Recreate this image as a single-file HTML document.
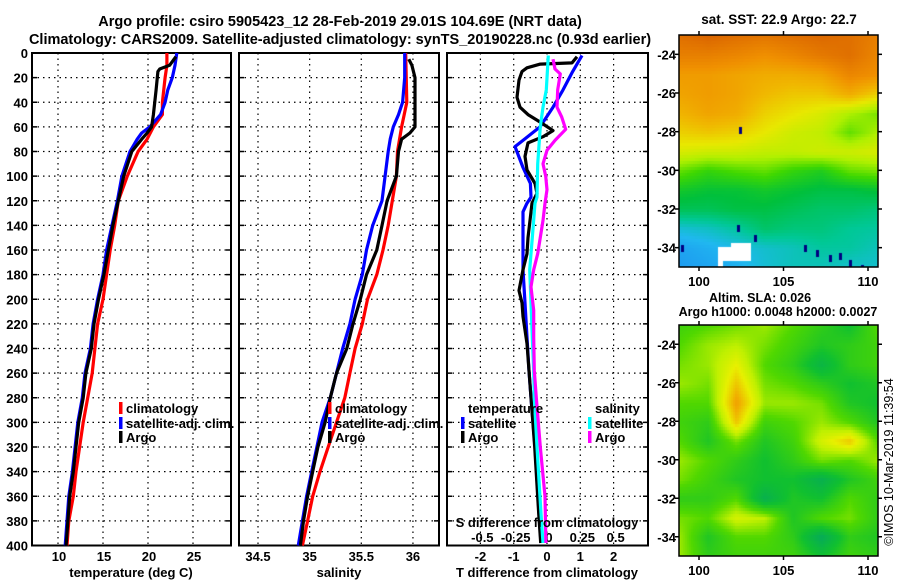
<!DOCTYPE html>
<html><head><meta charset="utf-8">
<style>
html,body{margin:0;padding:0;background:#fff;width:900px;height:580px;overflow:hidden;}
#wrap{position:relative;width:900px;height:580px;}
canvas{position:absolute;}
svg{position:absolute;left:0;top:0;}
text{font-family:"Liberation Sans",Arial,sans-serif;font-weight:bold;fill:#000;}
</style></head><body>
<div id="wrap">
<canvas id="sstmap" width="199" height="232" style="left:679px;top:35px;"></canvas>
<canvas id="slamap" width="199" height="231" style="left:679px;top:325px;"></canvas>
<svg id="fig" width="900" height="580" xmlns="http://www.w3.org/2000/svg">
<text x="340" y="26" font-size="14.5" text-anchor="middle">Argo profile: csiro 5905423_12 28-Feb-2019 29.01S 104.69E (NRT data)</text>
<text x="340" y="44" font-size="14.5" text-anchor="middle">Climatology: CARS2009. Satellite-adjusted climatology: synTS_20190228.nc (0.93d earlier)</text>
<text x="779" y="24" font-size="13.5" text-anchor="middle">sat. SST: 22.9 Argo: 22.7</text>
<text x="760" y="302" font-size="12.5" text-anchor="middle">Altim. SLA: 0.026</text>
<text x="778" y="316" font-size="12.5" text-anchor="middle">Argo h1000: 0.0048 h2000: 0.0027</text>
<text transform="translate(893,462) rotate(-90)" font-size="12.5" text-anchor="middle" style="font-weight:normal">©IMOS 10-Mar-2019 11:39:54</text>
<g id="layer"></g>
</svg>
</div>
<script>
// ===== Data =====
const depthTicks = [0,20,40,60,80,100,120,140,160,180,200,220,240,260,280,300,320,340,360,380,400];
const tempTicks = [10,15,20,25];
const salTicks = [34.5,35,35.5,36];
const dTTicks = [-2,-1,0,1,2];
const dSTicks = [-0.5,-0.25,0,0.25,0.5];
const dSTickLabels = ['-0.5','-0.25','0','0.25','0.5'];

const climTDepth = [0,10,20,40,50,60,70,80,100,120,140,160,180,200,220,240,260,280,300,320,340,360,380,400];
const climTemp  = [22.1,22.1,21.9,21.6,21.6,20.6,19.9,18.9,17.7,16.7,16.3,15.8,15.4,15.0,14.4,14.1,13.8,13.3,12.8,12.4,12.0,11.7,11.2,11.0];
const satTDepth = [0,10,20,30,40,50,60,65,70,80,100,120,140,160,180,200,220,240,260,280,300,320,340,360,380,400];
const satTemp   = [23.2,23.0,22.7,22.2,21.9,21.4,20.2,19.3,18.8,18.0,17.1,16.6,16.0,15.4,15.0,14.4,13.9,13.6,13.0,12.7,12.2,11.9,11.6,11.2,11.0,10.8];
const argoTDepth = [3,10,13,15,30,50,60,65,70,80,100,120,140,160,180,200,220,240,260,280,300,320,340,360,380,400];
const argoTemp   = [23.1,22.4,21.3,21.1,20.9,20.6,20.4,19.9,19.3,18.2,17.3,16.7,16.1,15.6,15.1,14.5,14.0,13.7,13.1,12.8,12.3,12.0,11.7,11.3,11.1,10.9];

const climSDepth = [0,40,60,80,100,120,140,160,180,200,220,240,260,280,300,320,340,360,380,400];
const climSal    = [35.93,35.94,35.89,35.85,35.84,35.80,35.76,35.71,35.65,35.56,35.51,35.44,35.39,35.34,35.26,35.18,35.10,35.03,34.98,34.93];
const satSDepth = [0,20,40,50,60,70,80,100,120,140,160,180,200,220,240,260,280,300,320,340,360,380,400];
const satSal    = [35.92,35.92,35.90,35.86,35.81,35.78,35.76,35.73,35.70,35.61,35.55,35.51,35.44,35.39,35.32,35.26,35.20,35.12,35.07,35.02,34.97,34.93,34.89];
const argoSDepth = [5,10,20,50,60,65,70,80,100,120,140,160,180,200,220,240,260,280,300,320,340,360,380,400];
const argoSal    = [35.96,35.99,36.02,36.02,36.02,35.97,35.89,35.86,35.84,35.75,35.70,35.65,35.55,35.49,35.42,35.36,35.26,35.20,35.15,35.08,35.03,34.98,34.94,34.91];

const dTSatDepth = [2,16,30,44,60,71,76,93,106,117,122,129,150,176,203,231,258,280,320,374,398];
const dTSat      = [1.05,0.75,0.48,0.18,-0.21,-0.72,-0.96,-0.72,-0.5,-0.48,-0.6,-0.72,-0.72,-0.72,-0.66,-0.6,-0.54,-0.48,-0.36,-0.24,-0.18];
const dTArgoDepth = [3,8,9,12,15,22,36,44,50,56,63,68,73,84,95,106,114,122,136,150,163,176,193,203,214,225,236,258,280,320,374,398];
const dTArgo      = [0.9,0.75,-0.2,-0.6,-0.75,-0.84,-0.9,-0.81,-0.57,-0.21,0.18,-0.12,-0.57,-0.66,-0.6,-0.36,-0.3,-0.45,-0.51,-0.57,-0.6,-0.72,-0.84,-0.75,-0.72,-0.66,-0.6,-0.54,-0.48,-0.37,-0.25,-0.19];
const dSSatDepth = [2,30,44,60,90,117,122,150,176,203,231,258,280,320,374,398];
const dSSat      = [0.01,-0.005,-0.03,-0.05,-0.07,-0.075,-0.09,-0.11,-0.13,-0.12,-0.11,-0.1,-0.095,-0.075,-0.045,-0.03];
const dSArgoDepth = [5,13,17,30,44,52,62,71,79,90,100,111,122,136,163,176,190,209,231,258,280,320,360,398];
const dSArgo      = [0.045,0.06,0.1,0.08,0.075,0.11,0.14,0.06,0.0,-0.03,-0.01,0.0,-0.015,-0.03,-0.07,-0.1,-0.12,-0.1,-0.1,-0.095,-0.08,-0.05,-0.015,-0.008];

// ===== Axes =====
const Y0 = 53, Y1 = 545.5, DMAX = 400;
const yD = d => Y0 + (d / DMAX) * (Y1 - Y0);
const P1 = {x0:32, x1:231}, P2 = {x0:239, x1:439}, P3 = {x0:447, x1:648};
const xT = t => 58 + 9 * (t - 10);
const xS = s => 258 + 103.3 * (s - 34.5);
const xDT = v => 547 + 33.3 * v;
const xDS = v => 547 + 133.3 * v;

const NS = 'http://www.w3.org/2000/svg';
const layer = document.getElementById('layer');
function mk(tag, attrs, parent) {
  const e = document.createElementNS(NS, tag);
  for (const k in attrs) e.setAttribute(k, attrs[k]);
  (parent || layer).appendChild(e);
  return e;
}
function txt(x, y, s, size, anchor, parent) {
  const t = mk('text', {x:x, y:y, 'font-size':size, 'text-anchor':anchor||'middle'}, parent);
  t.textContent = s;
  return t;
}

function panel(P, xTicks, xf, name) {
  const g = mk('g', {});
  
  
  depthTicks.forEach(d => {
    if (d === 0 || d === 400) return;
    const gl = mk('line', {x1:P.x0, x2:P.x1, y1:yD(d), y2:yD(d), stroke:'#000', 'stroke-width':1.2, 'stroke-dasharray':'1.5,4'}, g);
    
    
    mk('line', {x1:P.x0, x2:P.x0+5, y1:yD(d), y2:yD(d), stroke:'#000', 'stroke-width':1.5}, g);
    mk('line', {x1:P.x1-5, x2:P.x1, y1:yD(d), y2:yD(d), stroke:'#000', 'stroke-width':1.5}, g);
  });
  xTicks.forEach(v => {
    const gl = mk('line', {x1:xf(v), x2:xf(v), y1:Y0, y2:Y1, stroke:'#000', 'stroke-width':1.2, 'stroke-dasharray':'1.5,4'}, g);
    
    
  });
  const fr = mk('rect', {x:P.x0, y:Y0, width:P.x1-P.x0, height:Y1-Y0, fill:'none', stroke:'#000', 'stroke-width':2}, g);
  
  
  return g;
}
function line(xs, ds, xf, color, name) {
  const pts = xs.map((v, i) => xf(v).toFixed(1) + ',' + yD(ds[i]).toFixed(1)).join(' ');
  const p = mk('polyline', {points:pts, fill:'none', stroke:color, 'stroke-width':3.2, 'stroke-linejoin':'round'});
  
  
}

panel(P1, tempTicks, xT, 'temperature-panel');
panel(P2, salTicks, xS, 'salinity-panel');
panel(P3, dTTicks, xDT, 'difference-panel');

depthTicks.forEach(d => {
  const t = txt(28, yD(d) + 5, String(d), 13, 'end');
  
  
});
tempTicks.forEach(v => { const t = txt(xT(v)+1, 561, String(v), 13);   });
salTicks.forEach(v => { const t = txt(xS(v), 561, String(v), 13);   });
dTTicks.forEach(v => { const t = txt(xDT(v), 561, String(v), 13);   });
dSTicks.forEach((v, i) => { const t = txt(xDS(v)+2, 542, dSTickLabels[i], 13);   });
let at = txt(131, 577, 'temperature (deg C)', 13);  
at = txt(339, 577, 'salinity', 13);  
at = txt(547, 577, 'T difference from climatology', 13);  

line(climTemp, climTDepth, xT, '#ff0000', 'temp-climatology-line');
line(satTemp, satTDepth, xT, '#0000ff', 'temp-satellite-line');
line(argoTemp, argoTDepth, xT, '#000000', 'temp-argo-line');
line(climSal, climSDepth, xS, '#ff0000', 'sal-climatology-line');
line(satSal, satSDepth, xS, '#0000ff', 'sal-satellite-line');
line(argoSal, argoSDepth, xS, '#000000', 'sal-argo-line');
line(dTSat, dTSatDepth, xDT, '#0000ff', 'dt-satellite-line');
line(dTArgo, dTArgoDepth, xDT, '#000000', 'dt-argo-line');
line(dSSat, dSSatDepth, xDS, '#00ffff', 'ds-satellite-line');
line(dSArgo, dSArgoDepth, xDS, '#ff00ff', 'ds-argo-line');

let st = txt(547, 527, 'S difference from climatology', 13);  

function legend(x, y, color, label, name) {
  const g = mk('g', {});
  
  
  mk('rect', {x:x, y:y-11, width:3.5, height:12, fill:color}, g);
  txt(x + 7, y, label, 13, 'start', g);
}
legend(119, 413, '#ff0000', 'climatology', 'legend-entry-climatology');
legend(119, 428, '#0000ff', 'satellite-adj. clim.', 'legend-entry-satellite');
legend(119, 442, '#000000', 'Argo', 'legend-entry-argo');
legend(328, 413, '#ff0000', 'climatology', 'legend-entry-climatology');
legend(328, 428, '#0000ff', 'satellite-adj. clim.', 'legend-entry-satellite');
legend(328, 442, '#000000', 'Argo', 'legend-entry-argo');
let lh = txt(468, 413, 'temperature', 13, 'start');  
lh = txt(595, 413, 'salinity', 13, 'start');  
legend(461, 428, '#0000ff', 'satellite', 'legend-entry-t-satellite');
legend(461, 442, '#000000', 'Argo', 'legend-entry-t-argo');
legend(588, 428, '#00ffff', 'satellite', 'legend-entry-s-satellite');
legend(588, 442, '#ff00ff', 'Argo', 'legend-entry-s-argo');

// ===== Maps =====
const latTicks = [-24,-26,-28,-30,-32,-34];
const lonTicks = [100,105,110];
const sstGrid = [
 [0.95,0.98,0.95,0.93,0.95,0.97,0.95,0.90],
 [0.90,0.90,0.88,0.85,0.88,0.92,0.95,0.88],
 [0.82,0.82,0.80,0.78,0.78,0.80,0.88,0.85],
 [0.80,0.82,0.80,0.75,0.72,0.72,0.78,0.70],
 [0.76,0.80,0.78,0.70,0.66,0.62,0.55,0.50],
 [0.70,0.72,0.70,0.65,0.60,0.58,0.48,0.55],
 [0.62,0.60,0.60,0.58,0.58,0.60,0.60,0.62],
 [0.48,0.43,0.46,0.48,0.43,0.40,0.48,0.50],
 [0.38,0.36,0.36,0.38,0.36,0.34,0.34,0.36],
 [0.32,0.32,0.34,0.34,0.32,0.30,0.30,0.28],
 [0.18,0.20,0.24,0.30,0.28,0.28,0.25,0.24],
 [0.10,0.13,0.16,0.19,0.21,0.24,0.24,0.21],
 [0.08,0.10,0.13,0.18,0.21,0.21,0.19,0.19]];
const slaGrid = [
 [0.45,0.50,0.55,0.60,0.50,0.40,0.30,0.50],
 [0.50,0.60,0.65,0.55,0.45,0.35,0.40,0.45],
 [0.55,0.60,0.75,0.50,0.40,0.20,0.40,0.45],
 [0.60,0.55,0.85,0.55,0.50,0.40,0.30,0.35],
 [0.50,0.50,0.95,0.60,0.60,0.55,0.35,0.30],
 [0.45,0.40,0.85,0.45,0.50,0.60,0.50,0.35],
 [0.50,0.35,0.55,0.35,0.45,0.70,0.85,0.50],
 [0.60,0.50,0.40,0.30,0.40,0.55,0.50,0.60],
 [0.55,0.45,0.35,0.30,0.30,0.15,0.35,0.45],
 [0.40,0.40,0.50,0.15,0.35,0.30,0.50,0.40],
 [0.55,0.50,0.70,0.65,0.35,0.50,0.55,0.40],
 [0.60,0.35,0.50,0.50,0.40,0.10,0.40,0.35],
 [0.60,0.40,0.45,0.45,0.45,0.30,0.45,0.40]];
const sstStops = [[0,[26,124,240]],[0.15,[32,184,240]],[0.25,[0,200,150]],[0.35,[0,192,60]],[0.45,[64,216,0]],[0.55,[176,240,0]],[0.65,[232,232,0]],[0.75,[240,184,0]],[0.85,[240,144,0]],[1,[216,96,0]]];
const slaStops = [[0,[0,160,110]],[0.3,[16,192,48]],[0.5,[80,216,0]],[0.65,[192,240,0]],[0.75,[232,240,0]],[0.9,[240,176,0]],[1,[240,144,0]]];

function cmap(stops, v) {
  v = Math.max(0, Math.min(1, v));
  for (let i = 1; i < stops.length; i++) {
    if (v <= stops[i][0]) {
      const a = stops[i-1], b = stops[i], f = (v - a[0]) / (b[0] - a[0]);
      return a[1].map((c, k) => Math.round(c + (b[1][k] - c) * f));
    }
  }
  return stops[stops.length-1][1];
}
function drawMap(id, grid, stops) {
  const cv = document.getElementById(id), ctx = cv.getContext('2d');
  const W = cv.width, H = cv.height, R = grid.length, C = grid[0].length;
  for (let y = 0; y < H; y += 3) for (let x = 0; x < W; x += 2) {
    const gx = x / (W - 1) * (C - 1), gy = y / (H - 1) * (R - 1);
    const i = Math.min(C - 2, Math.floor(gx)), j = Math.min(R - 2, Math.floor(gy));
    const fx = gx - i, fy = gy - j;
    const v = grid[j][i]*(1-fx)*(1-fy) + grid[j][i+1]*fx*(1-fy) + grid[j+1][i]*(1-fx)*fy + grid[j+1][i+1]*fx*fy;
    const c = cmap(stops, v);
    ctx.fillStyle = 'rgb(' + c.join(',') + ')';
    ctx.fillRect(x, y, 2, 3);
  }
}
drawMap('sstmap', sstGrid, sstStops);
drawMap('slamap', slaGrid, slaStops);
(function(){
  const ctx = document.getElementById('sstmap').getContext('2d');
  ctx.fillStyle = '#fff';
  ctx.fillRect(39, 212, 33, 14); ctx.fillRect(39, 212, 5, 20); ctx.fillRect(52, 208, 20, 10);
  ctx.fillStyle = '#000080';
  [[60,92],[58,190],[75,200],[125,210],[137,215],[150,220],[160,218],[170,225],[145,235],[182,230],[8,232],[2,210],[110,240],[168,240]].forEach(p => ctx.fillRect(p[0], p[1], 3, 7));
})();

const MX0 = 679, MX1 = 878;
const xLon = lon => 699 + (lon - 100) * 16.9;
function mapAxes(top, bottom, name) {
  const g = mk('g', {});
  
  
  const yLat = lat => top + (-23 - lat) / 12 * (bottom - top);
  mk('rect', {x:MX0, y:top, width:MX1-MX0, height:bottom-top, fill:'none', stroke:'#000', 'stroke-width':1.5}, g);
  latTicks.forEach(l => {
    mk('line', {x1:MX0-4, x2:MX0, y1:yLat(l), y2:yLat(l), stroke:'#000', 'stroke-width':1.5}, g);
    mk('line', {x1:MX1, x2:MX1+4, y1:yLat(l), y2:yLat(l), stroke:'#000', 'stroke-width':1.5}, g);
    txt(676, yLat(l) + 5, String(l), 13, 'end', g);
  });
  lonTicks.forEach(l => {
    mk('line', {x1:xLon(l), x2:xLon(l), y1:top-4, y2:top, stroke:'#000', 'stroke-width':1.5}, g);
    mk('line', {x1:xLon(l), x2:xLon(l), y1:bottom, y2:bottom+4, stroke:'#000', 'stroke-width':1.5}, g);
    txt(xLon(l), bottom + 19, String(l), 13, 'middle', g);
  });
}
mapAxes(35, 267, 'sst-map-axes');
mapAxes(325, 556, 'sla-map-axes');
</script>
</body></html>
